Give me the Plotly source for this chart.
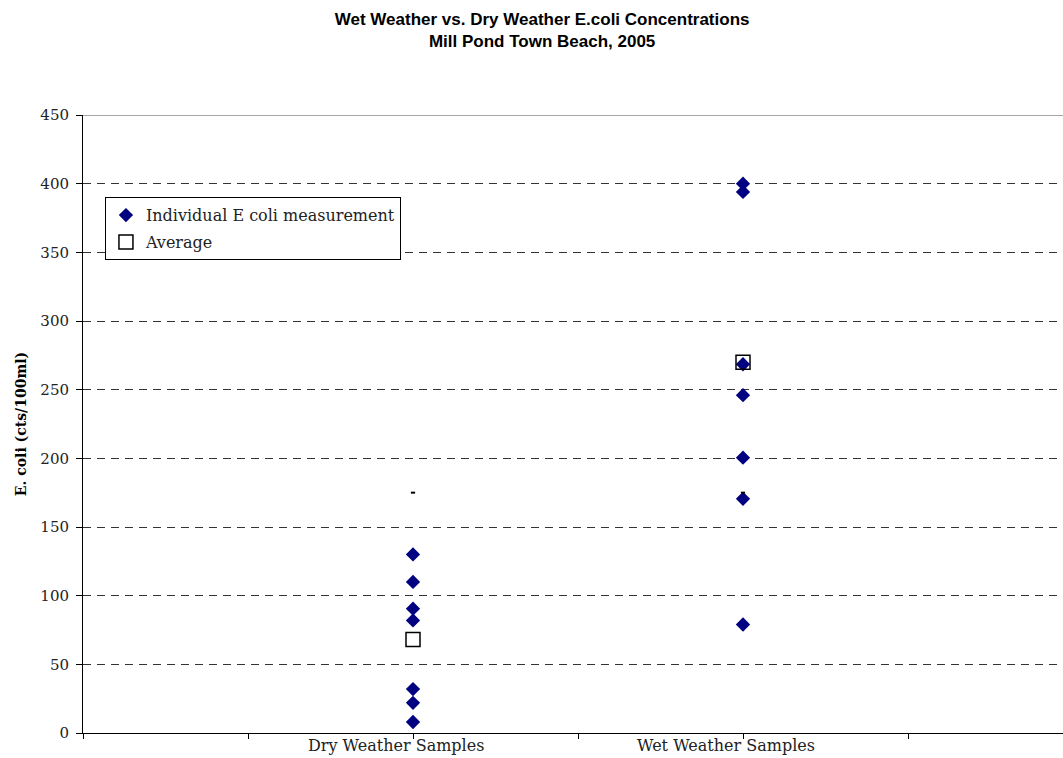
import plotly.graph_objects as go

# Sample groups (x position on the value axis) and measured E. coli counts
categories = ["Dry Weather Samples", "Wet Weather Samples"]
category_pos = [1, 2]

dry_values = [130, 110, 90.5, 82, 32, 22, 8]
wet_values = [400, 394, 268.5, 246, 200.5, 170.5, 79]

averages = [68, 270]
marks_175 = [175, 175]

y_ticks = [0, 50, 100, 150, 200, 250, 300, 350, 400, 450]

serif = "DejaVu Serif"
sans = "Liberation Sans"
navy = "#000080"

fig = go.Figure()

fig.add_trace(go.Scatter(
    x=[category_pos[0]] * len(dry_values) + [category_pos[1]] * len(wet_values),
    y=dry_values + wet_values,
    mode="markers",
    name="Individual E coli measurement",
    legendgroup="a",
    marker=dict(symbol="diamond", size=11, color=navy, line=dict(width=0)),
))

fig.add_trace(go.Scatter(
    x=category_pos,
    y=averages,
    mode="markers",
    name="Average",
    legendgroup="b",
    marker=dict(symbol="square-open", size=14, color="black", line=dict(width=1.5)),
))

fig.add_trace(go.Scatter(
    x=category_pos,
    y=marks_175,
    mode="markers",
    showlegend=False,
    marker=dict(symbol="line-ew", size=3, color="black", line=dict(width=2, color="black")),
))

for pos, label in zip(category_pos, categories):
    fig.add_annotation(
        x=pos, y=0, xref="x", yref="paper",
        text=label, showarrow=False,
        xanchor="center", yanchor="top", xshift=-17, yshift=-1,
        font=dict(family=serif, size=16, color="#222222"),
    )

# solid top border at 450
fig.add_shape(type="line", xref="paper", yref="y", x0=0, x1=1, y0=450, y1=450,
              line=dict(color="#888888", width=1.5))

fig.update_layout(
    width=1063, height=758,
    margin=dict(l=83, r=0, t=115, b=25),
    paper_bgcolor="white", plot_bgcolor="white",
    title=dict(
        text="<b>Wet Weather vs. Dry Weather E.coli Concentrations<br>Mill Pond Town Beach, 2005</b>",
        x=0.51, xanchor="center", xref="container", y=0.967, yanchor="top",
        font=dict(family=sans, size=17, color="black"),
    ),
    showlegend=True,
    legend=dict(
        x=0.0224, y=0.867, xanchor="left", yanchor="top",
        bordercolor="black", borderwidth=1, bgcolor="white",
        font=dict(family=serif, size=16, color="#222222"),
        traceorder="grouped", tracegroupgap=3,
        itemwidth=30,
    ),
    xaxis=dict(
        range=[0, (1063 - 83) / 330],
        tickvals=[0, 0.5, 1, 1.5, 2, 2.5],
        ticktext=["", "", "", "", "", ""],
        ticks="outside", ticklen=5, tickcolor="black",
        showline=True, linecolor="black", linewidth=1,
        showgrid=False, zeroline=False,
    ),
    yaxis=dict(
        range=[0, 450],
        tickvals=y_ticks,
        ticks="outside", ticklen=6, tickcolor="black",
        ticklabelstandoff=4,
        showline=True, linecolor="black", linewidth=1,
        showgrid=True, gridcolor="#333333", gridwidth=1, griddash="8px,6px",
        zeroline=False,
        tickfont=dict(family=serif, size=15, color="#222222"),
        title=dict(text="<b>E. coli (cts/100ml)</b>", standoff=10,
                   font=dict(family=serif, size=14, color="black")),
    ),
)

fig.write_html("out.html")
